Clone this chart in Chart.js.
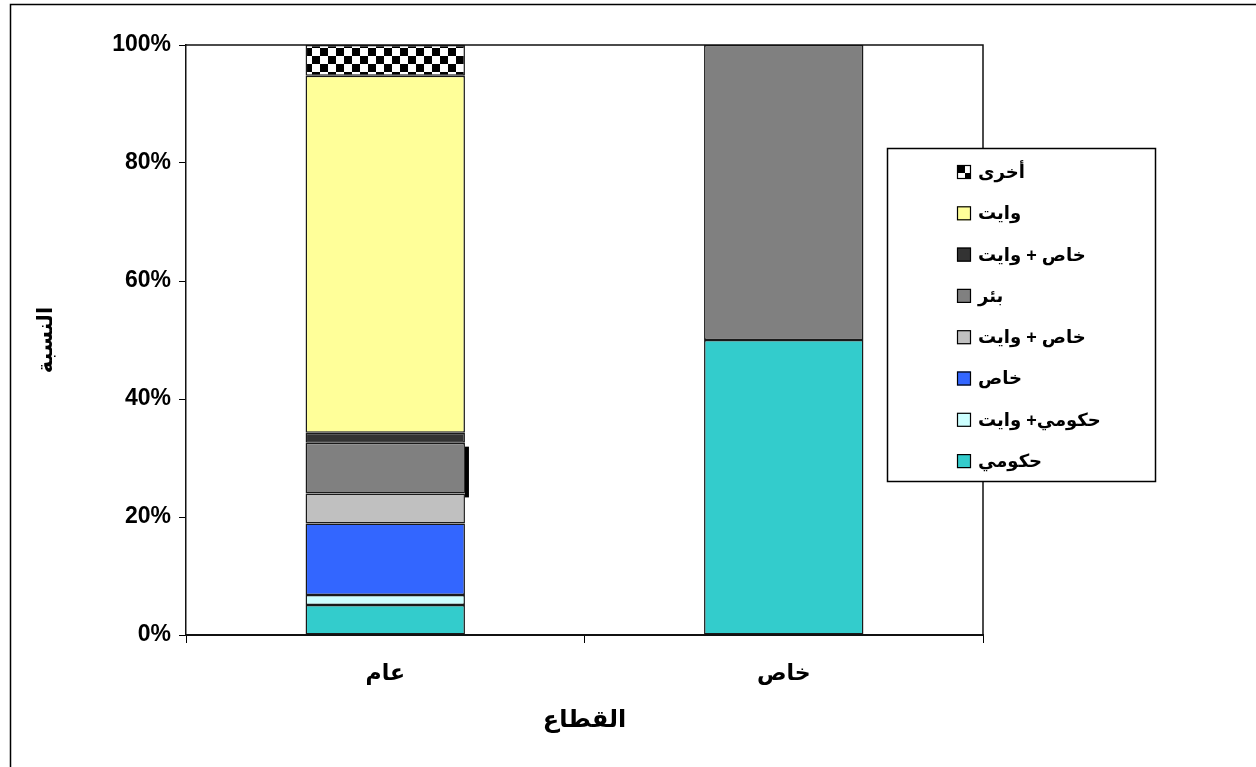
<!DOCTYPE html>
<html lang="ar">
<head>
<meta charset="utf-8">
<title>القطاع والنسبة</title>
<script src="https://cdn.jsdelivr.net/npm/chart.js@4/dist/chart.umd.min.js"></script>
<style>
  html, body { margin: 0; padding: 0; background: #ffffff; }
  #wrap { width: 1256px; height: 767px; position: relative; }
</style>
</head>
<body>
<div id="wrap"><canvas id="chart" width="1256" height="767"></canvas></div>
<script>
// Sectors on the x axis
const sectors = ['عام', 'خاص'];

// Water source shares (%) per sector, bottom of the stack first
const govSupply       = [5.1, 50];
const govPlusTanker   = [1.7, 0];
const privateSupply   = [12.1, 0];
const privPlusTankerA = [5.1, 0];
const well            = [8.6, 50];
const privPlusTankerB = [1.7, 0];
const tanker          = [60.5, 0];
const otherSource     = [5.2, 0];

const seriesNames = ['حكومي', 'حكومي+ وايت', 'خاص', 'خاص + وايت', 'بئر', 'خاص + وايت', 'وايت', 'أخرى'];
const seriesValues = [govSupply, govPlusTanker, privateSupply, privPlusTankerA, well, privPlusTankerB, tanker, otherSource];

// Y axis tick labels
const yTickValues = [0, 20, 40, 60, 80, 100];
const yTickLabels = ['0%', '20%', '40%', '60%', '80%', '100%'];

const FONT = '"Liberation Sans", Arial, "DejaVu Sans", sans-serif';

// Black/white checkerboard fill for the "other" series
function checkerPattern(cell) {
  const c = document.createElement('canvas');
  c.width = cell * 2; c.height = cell * 2;
  const g = c.getContext('2d');
  g.fillStyle = '#ffffff'; g.fillRect(0, 0, c.width, c.height);
  g.fillStyle = '#000000';
  g.fillRect(0, 0, cell, cell);
  g.fillRect(cell, cell, cell, cell);
  return g.createPattern(c, 'repeat');
}

const ctx = document.getElementById('chart').getContext('2d');
const fills = ['#33CCCC', '#CCFFFF', '#3366FF', '#C0C0C0', '#808080', '#333333', '#FFFF99', checkerPattern(8)];

const datasets = seriesNames.map((name, i) => ({
  label: name,
  data: seriesValues[i],
  backgroundColor: fills[i],
  borderColor: '#1a1a1a',
  // empty segments get no outline
  borderWidth: (c) => (c.raw ? 1.5 : 0),
  borderSkipped: false,
  categoryPercentage: 1.0,
  barPercentage: 0.4
}));

// Outer frame, plot border and the small marker beside the well segment
const framePlugin = {
  id: 'frame',
  beforeDraw(chart) {
    const g = chart.ctx;
    g.save();
    g.fillStyle = '#ffffff';
    g.fillRect(0, 0, chart.width, chart.height);
    g.strokeStyle = '#000000';
    g.lineWidth = 1.5;
    g.strokeRect(10.5, 4.5, chart.width + 10, chart.height + 10);
    g.restore();
  },
  afterDatasetsDraw(chart) {
    const g = chart.ctx;
    const a = chart.chartArea;
    g.save();
    g.strokeStyle = '#111111';
    g.lineWidth = 1.5;
    g.beginPath();
    g.moveTo(a.left, a.top);
    g.lineTo(a.right, a.top);
    g.lineTo(a.right, a.bottom);
    g.stroke();
    // thin black bar on the right side of the well segment of the first sector
    const el = chart.getDatasetMeta(4).data[0];
    if (el) {
      const right = el.x + el.width / 2;
      g.fillStyle = '#000000';
      g.fillRect(right, el.y + 4, 4, el.base - el.y);
    }
    g.restore();
  }
};

// Boxed legend drawn inside the plot, last series on top
const boxLegend = {
  id: 'boxLegend',
  afterDraw(chart) {
    const g = chart.ctx;
    const box = { x: 887, y: 148, w: 268, h: 333 };
    g.save();
    g.fillStyle = '#ffffff';
    g.fillRect(box.x, box.y, box.w, box.h);
    g.strokeStyle = '#000000';
    g.lineWidth = 1.5;
    g.strokeRect(box.x + 0.5, box.y + 0.5, box.w, box.h);
    const ds = chart.data.datasets;
    const n = ds.length;
    const firstY = 172, step = 41.3;
    g.font = 'bold 18px ' + FONT;
    g.textBaseline = 'middle';
    g.textAlign = 'left';
    for (let k = 0; k < n; k++) {
      const d = ds[n - 1 - k];
      const cy = firstY + k * step;
      g.save();
      g.translate(957, cy - 7);
      g.fillStyle = d.backgroundColor;
      g.fillRect(0, 0, 14, 14);
      g.restore();
      g.strokeStyle = '#000000';
      g.lineWidth = 1.2;
      g.strokeRect(957.5, cy - 6.5, 13, 13);
      g.fillStyle = '#000000';
      g.fillText(d.label, 978, cy + 1);
    }
    g.restore();
  }
};

new Chart(ctx, {
  type: 'bar',
  data: { labels: sectors, datasets },
  plugins: [framePlugin, boxLegend],
  options: {
    responsive: false,
    animation: false,
    layout: { padding: { left: 26, top: 45, right: 273, bottom: 20 } },
    plugins: { legend: { display: false }, tooltip: { enabled: false } },
    scales: {
      x: {
        stacked: true,
        offset: true,
        grid: { offset: true, drawOnChartArea: false, drawTicks: true, tickLength: 8, color: '#000000', lineWidth: 1 },
        border: { display: true, color: '#111111', width: 2 },
        ticks: { color: '#000000', padding: 18, font: { family: FONT, size: 22, weight: 'bold' } },
        title: { display: true, text: 'القطاع', color: '#000000', padding: { top: 0, bottom: 12 }, font: { family: FONT, size: 24, weight: 'bold' } },
        afterFit(scale) { scale.height = 767 - 20 - 635; }
      },
      y: {
        stacked: true,
        min: 0,
        max: 100,
        afterBuildTicks(scale) { scale.ticks = yTickValues.map(v => ({ value: v })); },
        grid: { drawOnChartArea: false, drawTicks: true, tickLength: 7, color: '#000000', lineWidth: 1 },
        border: { display: true, color: '#111111', width: 1.5 },
        ticks: {
          color: '#000000', padding: 8,
          font: { family: FONT, size: 23, weight: 'bold' },
          callback: (v) => yTickLabels[yTickValues.indexOf(v)]
        },
        title: { display: true, text: 'النسبة', color: '#000000', padding: { top: 8, bottom: 0 }, font: { family: FONT, size: 21, weight: 'bold' } },
        afterFit(scale) { scale.width = 186 - 26; }
      }
    }
  }
});
</script>
</body>
</html>
